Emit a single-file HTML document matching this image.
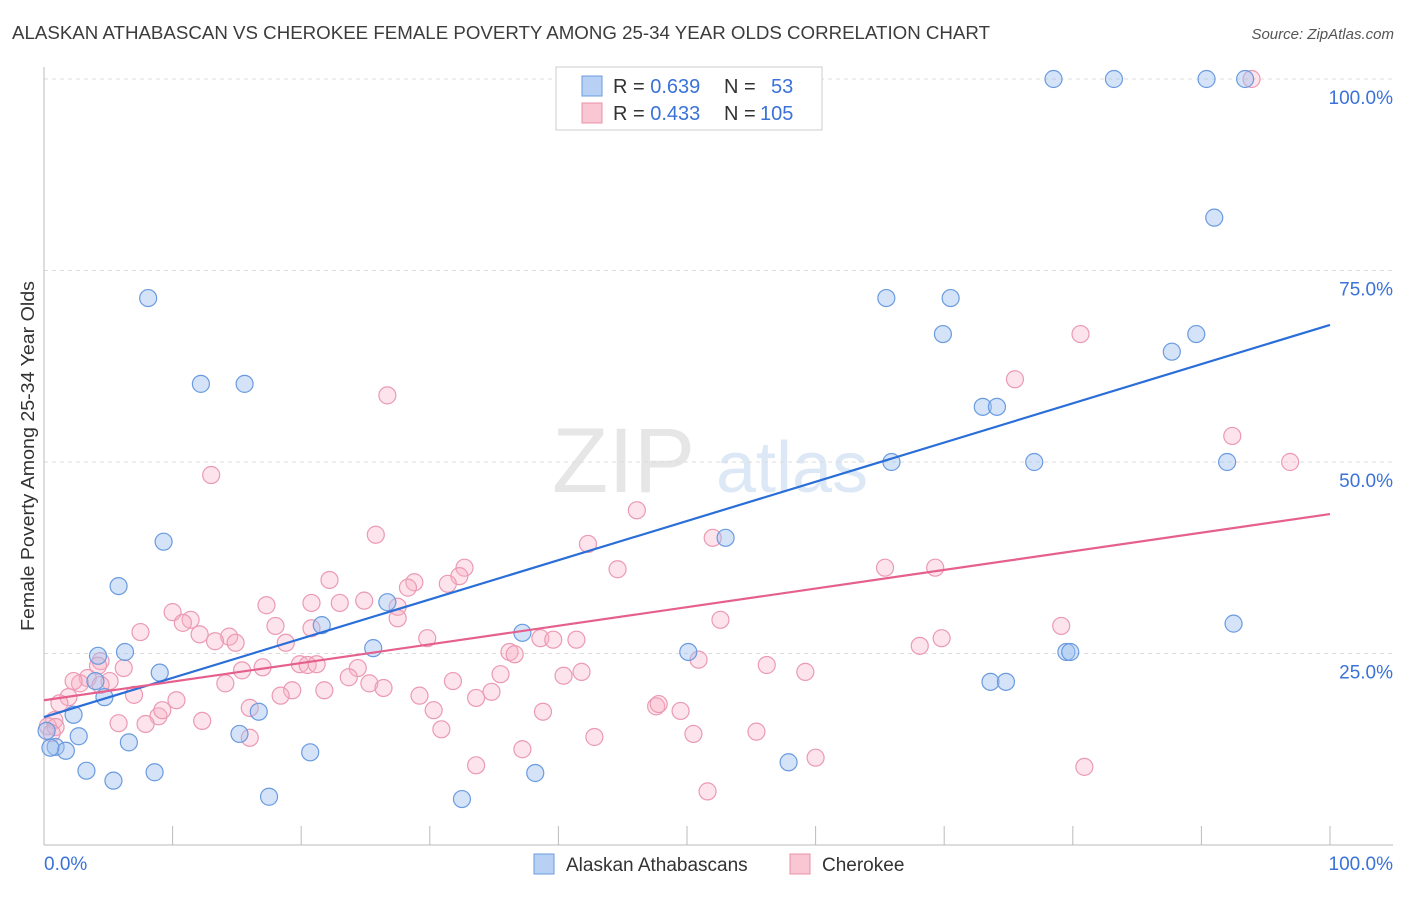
<!DOCTYPE html>
<html><head><meta charset="utf-8"><style>
body{margin:0;background:#fff;font-family:"Liberation Sans",sans-serif;}
svg text{font-family:"Liberation Sans",sans-serif;}
</style></head><body>
<svg id="chart" width="1406" height="892" viewBox="0 0 1406 892" xmlns="http://www.w3.org/2000/svg">
<text x="12" y="39" font-size="18" fill="#3c3c3c" textLength="978" lengthAdjust="spacingAndGlyphs">ALASKAN ATHABASCAN VS CHEROKEE FEMALE POVERTY AMONG 25-34 YEAR OLDS CORRELATION CHART</text>
<text x="1394" y="39" font-size="15" fill="#555" text-anchor="end" font-style="italic">Source: ZipAtlas.com</text>
<g>
<text x="552" y="492" font-size="92" fill="#e6e6e6" font-family="Liberation Serif, serif">ZIP</text>
<text x="716" y="492" font-size="72" fill="#dde8f6">atlas</text>
</g>
<g id="grid"></g>
<g id="axes"></g>
<g id="pts"></g>
<g id="trend"></g>
<text transform="translate(34,456) rotate(-90)" font-size="18" fill="#333" text-anchor="middle" textLength="350" lengthAdjust="spacingAndGlyphs">Female Poverty Among 25-34 Year Olds</text>
<g>
<rect x="556" y="67" width="266" height="63" fill="#fff" stroke="#ccc"/>
<rect x="582" y="76" width="20" height="20" fill="#b7d0f3" stroke="#6a9be0"/>
<rect x="582" y="103" width="20" height="20" fill="#f9c6d4" stroke="#e890aa"/>
<text x="613" y="93" font-size="20" fill="#333">R = <tspan fill="#3a72d8">0.639</tspan><tspan x="724">N = </tspan><tspan x="771" fill="#3a72d8">53</tspan></text>
<text x="613" y="120" font-size="20" fill="#333">R = <tspan fill="#3a72d8">0.433</tspan><tspan x="724">N = </tspan><tspan x="760" fill="#3a72d8">105</tspan></text>
</g>
<g>
<rect x="534" y="854" width="20" height="20" fill="#b7d0f3" stroke="#6a9be0"/>
<text x="566" y="871" font-size="19" fill="#333">Alaskan Athabascans</text>
<rect x="790" y="854" width="20" height="20" fill="#f9c6d4" stroke="#e890aa"/>
<text x="822" y="871" font-size="19" fill="#333">Cherokee</text>
</g>
</svg>
<script>
const yTicks=[25,50,75,100];
const yTickLabels=["25.0%","50.0%","75.0%","100.0%"];
const xTicks=[0,10,20,30,40,50,60,70,80,90,100];
const blueX=[78.5,83.2,90.4,93.4,91.0,8.1,65.5,70.5,69.9,89.6,87.7,12.2,15.6,73.0,74.1,65.9,77.0,92.0,9.3,53.0,5.8,26.7,21.6,37.2,92.5,4.2,6.3,25.6,50.1,79.5,79.8,4.0,9.0,4.7,73.6,74.8,16.7,2.3,0.2,2.7,15.2,6.6,0.9,1.7,20.7,57.9,3.3,8.6,38.2,5.4,17.5,32.5,0.5];
const blueY=[100,100,100,100,81.9,71.4,71.4,71.4,66.7,66.7,64.4,60.2,60.2,57.2,57.2,50.0,50.0,50.0,39.6,40.1,33.8,31.7,28.7,27.7,28.9,24.7,25.2,25.7,25.2,25.2,25.2,21.4,22.5,19.3,21.3,21.3,17.4,17.0,14.9,14.2,14.5,13.4,12.8,12.3,12.1,10.8,9.7,9.5,9.4,8.4,6.3,6.0,12.7];
const pinkX=[93.9,26.7,80.6,75.5,92.4,96.9,13.0,46.1,25.8,42.3,52.0,44.6,65.4,69.3,32.7,32.3,28.8,31.4,28.3,22.2,24.9,27.5,20.8,17.3,10.0,11.4,10.8,27.5,23.0,7.5,12.1,14.4,14.9,13.3,18.0,18.8,20.8,52.6,79.1,29.8,38.6,39.6,41.4,68.1,69.8,4.4,4.2,6.2,3.4,2.8,2.3,5.1,4.4,1.9,1.2,7.0,10.3,14.1,17.0,15.4,19.9,20.5,21.2,24.4,23.7,25.3,26.4,21.8,19.3,18.4,16.0,31.8,34.8,33.6,29.2,30.3,35.5,36.2,36.6,40.4,41.8,50.9,56.2,59.2,8.9,9.2,5.8,7.9,12.3,16.0,30.9,0.8,0.3,0.9,0.6,42.8,50.5,55.4,38.8,47.6,47.8,49.5,37.2,33.6,60.0,80.9,51.6];
const pinkY=[100,58.7,66.7,60.8,53.4,50.0,48.3,43.7,40.5,39.3,40.1,36.0,36.2,36.2,36.2,35.1,34.3,34.1,33.6,34.6,31.9,31.1,31.6,31.3,30.4,29.4,29.0,29.6,31.6,27.8,27.5,27.2,26.4,26.6,28.6,26.4,28.3,29.4,28.6,27.0,27.0,26.8,26.8,26.0,27.0,24.0,23.4,23.1,21.8,21.1,21.4,21.4,20.9,19.3,18.5,19.6,18.9,21.1,23.2,22.8,23.6,23.5,23.6,23.1,21.9,21.1,20.5,20.2,20.2,19.5,17.9,21.4,20.0,19.2,19.5,17.6,22.3,25.2,24.9,22.1,22.6,24.2,23.5,22.6,16.8,17.6,15.9,15.8,16.2,14.0,15.1,16.3,15.5,15.4,14.6,14.1,14.5,14.8,17.4,18.1,18.4,17.5,12.5,10.4,11.4,10.2,7.0];
const blueTrend=[16.7,67.9];
const pinkTrend=[18.9,43.2];
const NS="http://www.w3.org/2000/svg";
const X0=44,X1=1330,Y0=845,Y1=79;
const sx=v=>X0+(X1-X0)*v/100;
const sy=v=>Y0-(Y0-Y1)*v/100;
function mk(tag,attrs,parent){const e=document.createElementNS(NS,tag);for(const k in attrs)e.setAttribute(k,attrs[k]);parent.appendChild(e);return e;}
const grid=document.getElementById('grid');
yTicks.forEach((t,i)=>{
 const l=mk('line',{x1:X0,x2:1393,y1:sy(t),y2:sy(t),stroke:'#dcdcdc','stroke-dasharray':'4,4'},grid);
 
 
 const tx=mk('text',{x:1393,y:sy(t)+25,'font-size':19,fill:'#3a72d8','text-anchor':'end'},grid);
 tx.textContent=yTickLabels[i];
 
 
});
const axes=document.getElementById('axes');
const ya=mk('line',{x1:X0,x2:X0,y1:67,y2:Y0,stroke:'#bbb'},axes);


const xa=mk('line',{x1:X0,x2:1393,y1:Y0,y2:Y0,stroke:'#bbb'},axes);


xTicks.forEach(t=>{
 const l=mk('line',{x1:sx(t),x2:sx(t),y1:826,y2:Y0,stroke:'#bbb'},axes);
 
 
});
const xl0=mk('text',{x:44,y:870,'font-size':19,fill:'#3a72d8'},axes);xl0.textContent='0.0%';


const xl1=mk('text',{x:1393,y:870,'font-size':19,fill:'#3a72d8','text-anchor':'end'},axes);xl1.textContent='100.0%';


const pts=document.getElementById('pts');
pinkX.forEach((v,i)=>{
 const c=mk('circle',{cx:sx(v),cy:sy(pinkY[i]),r:8.5,fill:'rgba(248,175,198,0.35)',stroke:'#eb9ab3','stroke-width':1.2},pts);
 
 
});
blueX.forEach((v,i)=>{
 const c=mk('circle',{cx:sx(v),cy:sy(blueY[i]),r:8.5,fill:'rgba(160,192,240,0.45)',stroke:'#6a9be0','stroke-width':1.2},pts);
 
 
});
const tr=document.getElementById('trend');
const bl=mk('line',{x1:sx(0),y1:sy(blueTrend[0]),x2:sx(100),y2:sy(blueTrend[1]),stroke:'#2a6ed8','stroke-width':2.2},tr);


const pl=mk('line',{x1:sx(0),y1:sy(pinkTrend[0]),x2:sx(100),y2:sy(pinkTrend[1]),stroke:'#e5608c','stroke-width':2.2},tr);


</script>
</body></html>
